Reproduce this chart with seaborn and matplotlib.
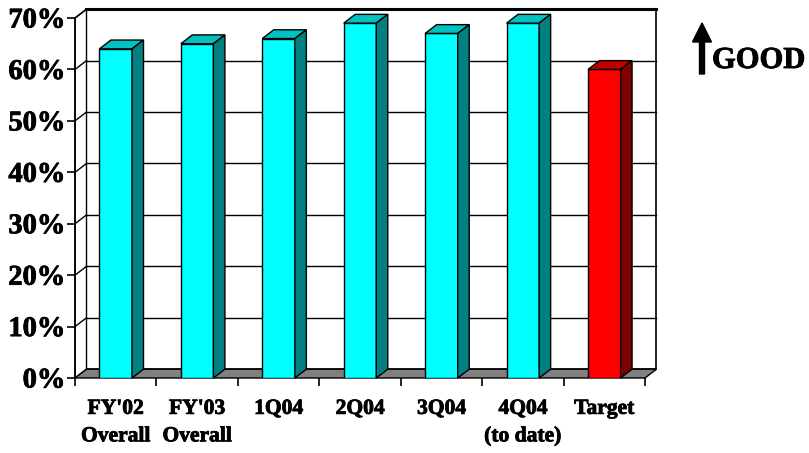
import matplotlib
matplotlib.use("Agg")
import matplotlib.pyplot as plt
import matplotlib.patheffects as pe
import seaborn as sns
import pandas as pd
from matplotlib.patches import Polygon, FancyArrow
from matplotlib.transforms import IdentityTransform

# ---- data -------------------------------------------------------------
categories = ["FY'02\nOverall", "FY'03\nOverall", "1Q04", "2Q04", "3Q04",
              "4Q04\n(to date)", "Target"]
values = [64, 65, 66, 69, 67, 69, 60]
y_ticks = [0, 10, 20, 30, 40, 50, 60, 70]
y_tick_labels = [f"{t}%" for t in y_ticks]

# face / top / side shades for the pseudo-3D columns
front_colors = ["#00FFFF"] * 6 + ["#FF0000"]
top_colors = ["#00C0C0"] * 6 + ["#C00000"]
side_colors = ["#008080"] * 6 + ["#800000"]

df = pd.DataFrame({"period": categories, "share": values})

# ---- figure -----------------------------------------------------------
W, H = 809, 453
fig = plt.figure(figsize=(W / 100, H / 100), dpi=100)
ax = fig.add_axes([75 / W, (H - 378) / H, (645 - 75) / W, (378 - 18) / H])

serif = ["Liberation Serif", "DejaVu Serif"]
heavy = [pe.withStroke(linewidth=0.6, foreground="black")]

sns.barplot(data=df, x="period", y="share", hue="period", palette=front_colors,
            width=0.4, saturation=1, legend=False, edgecolor="black",
            linewidth=1.0, ax=ax, zorder=5)
bars = list(ax.patches)

ax.set_xlim(-0.5, len(categories) - 0.5)
ax.set_ylim(0, 70)

# depth offset of the 3D box, in pixels, converted to data units
DX_PX, DY_PX = 11.5, 8.8
px_per_x = (645 - 75) / len(categories)
px_per_y = (378 - 18) / 70.0
ddx = DX_PX / px_per_x
ddy = DY_PX / px_per_y

x0, x1 = -0.5, len(categories) - 0.5
ytop = 70

# back wall
ax.add_patch(Polygon([(x0 + ddx, ddy), (x1 + ddx, ddy), (x1 + ddx, ytop + ddy),
                      (x0 + ddx, ytop + ddy)], closed=True, facecolor="white",
                     edgecolor="black", linewidth=1.2, clip_on=False, zorder=1))
# left side wall
ax.add_patch(Polygon([(x0, 0), (x0, ytop), (x0 + ddx, ytop + ddy), (x0 + ddx, ddy)],
                     closed=True, facecolor="white", edgecolor="black",
                     linewidth=1.0, clip_on=False, zorder=1))
# gridlines on the back and side walls
for t in y_ticks[1:]:
    ax.plot([x0 + ddx, x1 + ddx], [t + ddy, t + ddy], color="black",
            linewidth=1.0, clip_on=False, zorder=2)
    ax.plot([x0, x0 + ddx], [t, t + ddy], color="black", linewidth=1.0,
            clip_on=False, zorder=2)
# top edge of the back wall drawn heavier
ax.plot([x0 + ddx, x1 + ddx], [ytop + ddy, ytop + ddy], color="black",
        linewidth=2.2, clip_on=False, zorder=2)
# floor
ax.add_patch(Polygon([(x0, 0), (x1, 0), (x1 + ddx, ddy), (x0 + ddx, ddy)],
                     closed=True, facecolor="#808080", edgecolor="black",
                     linewidth=1.0, clip_on=False, zorder=3))

# top and side faces of each column
for i, bar in enumerate(bars):
    bx0 = bar.get_x()
    bx1 = bx0 + bar.get_width()
    h = bar.get_height()
    ax.add_patch(Polygon([(bx0, h), (bx1, h), (bx1 + ddx, h + ddy), (bx0 + ddx, h + ddy)],
                         closed=True, facecolor=top_colors[i], edgecolor="black",
                         linewidth=1.0, clip_on=False, zorder=6))
    ax.add_patch(Polygon([(bx1, 0), (bx1, h), (bx1 + ddx, h + ddy), (bx1 + ddx, ddy)],
                         closed=True, facecolor=side_colors[i], edgecolor="black",
                         linewidth=1.0, clip_on=False, zorder=6))

# ---- axes styling -----------------------------------------------------
for side in ("top", "right", "bottom"):
    ax.spines[side].set_visible(False)
ax.spines["left"].set_linewidth(1.2)
ax.spines["left"].set_zorder(7)
ax.set_facecolor("none")
ax.set_xlabel("")
ax.set_ylabel("")

ax.set_yticks(y_ticks)
ax.set_yticklabels(y_tick_labels, fontfamily=serif, fontweight="bold", fontsize=20.5)
ax.tick_params(axis="y", length=6, width=1.2, pad=1, direction="out")

ax.set_xticks(range(len(categories)))
ax.set_xticklabels(categories, fontfamily=serif, fontweight="bold", fontsize=15.5,
                   linespacing=1.5, va="top")
ax.tick_params(axis="x", which="major", length=0, pad=15)
ax.set_xticks([i - 0.5 for i in range(len(categories) + 1)], minor=True)
ax.tick_params(axis="x", which="minor", length=6, width=1.2, direction="out")

for lab in ax.get_xticklabels() + ax.get_yticklabels():
    lab.set_path_effects(heavy)

# "GOOD" marker with an upward arrow
fig.add_artist(FancyArrow(702, H - 74, 0, 51, width=5, head_width=19,
                          head_length=19, length_includes_head=True,
                          color="black", transform=IdentityTransform()))
fig.text(712 / W, (H - 68) / H, "GOOD", fontfamily=serif, fontweight="bold",
         fontsize=22, ha="left", va="baseline", path_effects=heavy)

fig.savefig("out.png", dpi=100)
